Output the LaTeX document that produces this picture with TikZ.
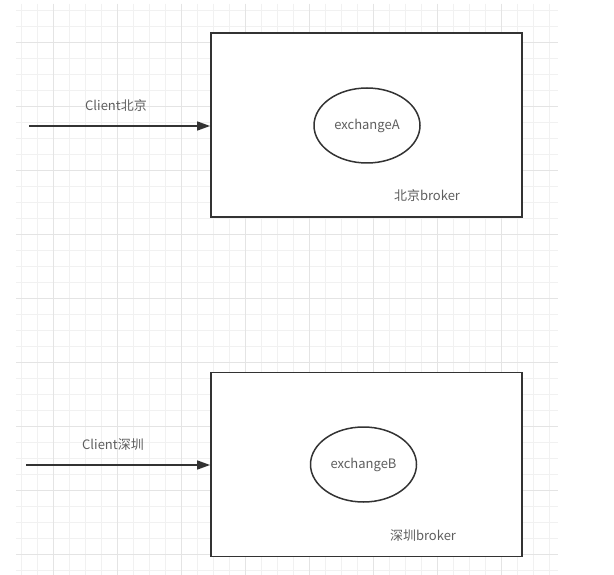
\documentclass[tikz,border=0pt]{standalone}
\usepackage{fontspec}
\setmainfont{Noto Sans CJK SC}
\usetikzlibrary{arrows.meta,shapes.geometric}
\definecolor{linec}{HTML}{333333}
\definecolor{textc}{HTML}{5E5E5E}
\definecolor{gridmajor}{HTML}{E4E4E4}
\definecolor{gridminor}{HTML}{F1F1F1}
\tikzset{
  brokerbox/.style={draw=linec, line width=1.8pt, fill=white, minimum width=311pt, minimum height=184pt, inner sep=0pt},
  exch/.style={ellipse, draw=linec, line width=1.5pt, minimum width=106pt, minimum height=75pt, inner sep=0pt, text=textc, font=\fontsize{13}{15}\selectfont},
  lbl/.style={text=textc, font=\fontsize{13}{15}\selectfont, inner sep=0pt},
  conn/.style={draw=linec, line width=1.6pt, -{Triangle[length=13pt,width=9pt]}}
}
\begin{document}
\begin{tikzpicture}[x=1pt,y=-1pt]
\useasboundingbox (0,0) rectangle (614,575);
\fill[white] (0,0) rectangle (614,575);
% grid
\foreach \x in {21,37,...,549} \draw[gridminor, line width=0.8pt] (\x,4) -- (\x,575);
\foreach \y in {10,26,...,570} \draw[gridminor, line width=0.8pt] (16,\y) -- (558,\y);
\foreach \x in {53,117,...,501} \draw[gridmajor, line width=0.9pt] (\x,4) -- (\x,575);
\foreach \y in {42,106,...,554} \draw[gridmajor, line width=0.9pt] (16,\y) -- (558,\y);
% top broker
\node[brokerbox] (boxA) at (366.5,125) {};
\node[exch] (exA) at (367,125.5) {exchangeA};
\node[lbl] (brA) at (427,196) {北京broker};
\coordinate (startA) at (29,126);
\draw[conn] (startA) -- (startA -| boxA.west);
\node[lbl] (clA) at (116,106) {Client北京};
% bottom broker
\node[brokerbox] (boxB) at (366.5,464.5) {};
\node[exch] (exB) at (363.5,464.5) {exchangeB};
\node[lbl] (brB) at (423,536) {深圳broker};
\coordinate (startB) at (26,465);
\draw[conn] (startB) -- (startB -| boxB.west);
\node[lbl] (clB) at (113,445) {Client深圳};
\end{tikzpicture}
\end{document}
